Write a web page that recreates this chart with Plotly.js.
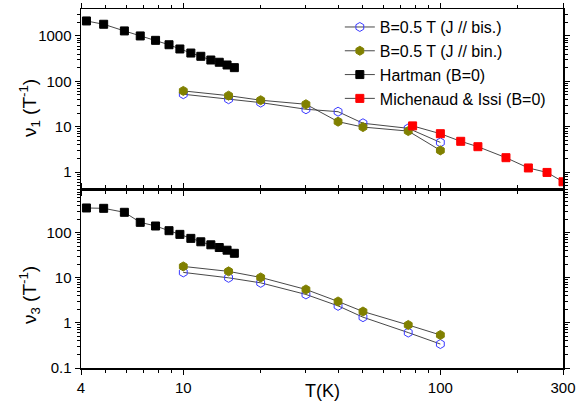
<!DOCTYPE html>
<html>
<head>
<meta charset="utf-8">
<script src="https://cdn.plot.ly/plotly-3.0.1.min.js"></script>
<style>html,body{margin:0;padding:0;background:#fff;}#chart{width:584px;height:406px;}</style>
</head>
<body>
<div id="chart"></div>
<script>
// ---- data ----
var T_hartman = [4.2, 4.9, 5.9, 6.8, 7.8, 8.8, 9.7, 10.7, 11.7, 12.8, 13.8, 14.8, 15.8];
var nu1_hartman = [2140, 1810, 1290, 1000, 800, 640, 516, 420, 356, 295, 263, 229, 200];
var nu3_hartman = [354, 348, 284, 170, 141, 111, 92, 75, 63, 54, 47, 41, 35];

var T_b = [10, 15, 20, 30, 40, 50, 75, 100];
var nu1_bis = [51.9, 40.3, 33.9, 24.2, 21.4, 11.9, 9.2, 4.5];
var nu1_bin = [61.4, 48.3, 38.3, 31.2, 12.9, 9.8, 8.0, 3.0];
var nu3_bis = [13.2, 10.0, 7.74, 4.28, 2.39, 1.34, 0.61, 0.34];
var nu3_bin = [17.9, 13.9, 10.2, 5.52, 2.99, 1.79, 0.90, 0.54];

var T_michenaud = [78, 100, 120, 140, 180, 220, 260, 300];
var nu1_michenaud = [10.4, 7.0, 4.76, 3.62, 2.07, 1.23, 0.98, 0.61];

var names = ['B=0.5 T (J // bis.)', 'B=0.5 T (J // bin.)', 'Hartman (B=0)', 'Michenaud &amp; Issi (B=0)'];
var xTicks = [4, 10, 100, 300];
var y1Ticks = [1, 10, 100, 1000];
var y2Ticks = [0.1, 1, 10, 100];

// ---- helpers ----
function logMinor(lo, hi) {
  var out = [];
  for (var k = -3; k <= 4; k++) {
    for (var m = 2; m <= 9; m++) {
      var v = m * Math.pow(10, k);
      if (v > lo * 1.0001 && v < hi * 0.9999) out.push(v);
    }
  }
  return out;
}
var FONT = 'Arial, "Liberation Sans", sans-serif';
var lineStyle = {color: '#333', width: 0.9};
var xr = [Math.log10(4), Math.log10(300)];
var y1r = [-0.374, 3.594];
var y2r = [-1, 2.97];

function mk(x, y, name, sym, color, size, xa, ya, show) {
  return {
    x: x, y: y, name: name, type: 'scatter', mode: 'lines+markers',
    xaxis: xa, yaxis: ya, showlegend: show,
    line: lineStyle,
    marker: {symbol: sym, color: color, size: size, line: {color: color, width: 1}}
  };
}
var blue = '#3a3aff', olive = '#808000', red = '#ff0000', black = '#000000';

var traces = [
  mk(T_b, nu1_bis, names[0], 'hexagon-open', blue, 9, 'x', 'y', true),
  mk(T_b, nu1_bin, names[1], 'hexagon', olive, 9, 'x', 'y', true),
  mk(T_hartman, nu1_hartman, names[2], 'square', black, 8, 'x', 'y', true),
  mk(T_michenaud, nu1_michenaud, names[3], 'square', red, 8, 'x', 'y', true),
  mk(T_b, nu3_bis, names[0], 'hexagon-open', blue, 9, 'x2', 'y2', false),
  mk(T_b, nu3_bin, names[1], 'hexagon', olive, 9, 'x2', 'y2', false),
  mk(T_hartman, nu3_hartman, names[2], 'square', black, 8, 'x2', 'y2', false)
];

var tickFont = {family: FONT, size: 15, color: '#000'};
function ax(range, vals, minorVals, extra) {
  var a = {type: 'log', range: range, tickmode: 'array', tickvals: vals, ticktext: vals.map(String),
    ticks: 'outside', ticklen: 5, tickwidth: 1, tickcolor: '#000', showgrid: false, zeroline: false,
    showline: true, linecolor: '#000', linewidth: 1.5, mirror: 'allticks', tickfont: tickFont,
    minor: {tickmode: 'array', tickvals: minorVals, ticks: 'outside', ticklen: 3, tickwidth: 1, tickcolor: '#000', showgrid: false}};
  for (var k in extra) a[k] = extra[k];
  return a;
}
var xMinorVals = logMinor(4, 300);
var y1MinorVals = logMinor(Math.pow(10, y1r[0]), Math.pow(10, y1r[1]));
var y2MinorVals = logMinor(Math.pow(10, y2r[0]), Math.pow(10, y2r[1]));
var split = 0.4986;
var layout = {
  width: 584, height: 406,
  margin: {l: 81, r: 21, t: 9, b: 38},
  paper_bgcolor: '#fff', plot_bgcolor: '#fff',
  font: {family: FONT, color: '#000'},
  showlegend: true,
  legend: {x: 0.537, y: 0.997, xanchor: 'left', yanchor: 'top', bgcolor: 'rgba(0,0,0,0)',
    font: {family: FONT, size: 16, color: '#000'}, tracegroupgap: 0, itemwidth: 30},
  xaxis: ax(xr, xTicks, xMinorVals, {anchor: 'y', showticklabels: false, domain: [0, 1]}),
  xaxis2: ax(xr, xTicks, xMinorVals, {anchor: 'y2', domain: [0, 1]}),
  yaxis: ax(y1r, y1Ticks, y1MinorVals, {domain: [split, 1], anchor: 'x'}),
  yaxis2: ax(y2r, y2Ticks, y2MinorVals, {domain: [0, split], anchor: 'x2'}),
  annotations: [
    {text: 'ν<sub>1</sub> (T<sup>-1</sup>)', xref: 'paper', yref: 'paper', x: 0, y: 0.724, xshift: -52,
      textangle: -90, showarrow: false, xanchor: 'center', yanchor: 'middle', font: {family: FONT, size: 19, color: '#000'}},
    {text: 'ν<sub>3</sub> (T<sup>-1</sup>)', xref: 'paper', yref: 'paper', x: 0, y: 0.203, xshift: -52,
      textangle: -90, showarrow: false, xanchor: 'center', yanchor: 'middle', font: {family: FONT, size: 19, color: '#000'}},
    {text: 'T(K)', xref: 'paper', yref: 'paper', x: 0.5, y: -0.064, showarrow: false,
      xanchor: 'center', yanchor: 'middle', font: {family: FONT, size: 18, color: '#000'}}
  ]
};
Plotly.newPlot('chart', traces, layout, {displayModeBar: false, staticPlot: true});
</script>
</body>
</html>
